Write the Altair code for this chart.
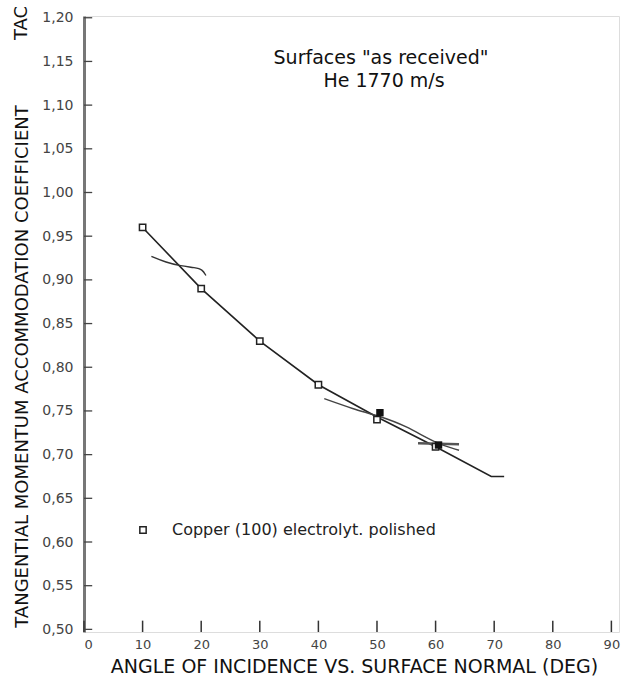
import altair as alt
import pandas as pd

# ---- data ----
angles = [10, 20, 30, 40, 50, 60]
tac_open = [0.960, 0.890, 0.830, 0.780, 0.740, 0.709]
filled_angles = [50.5, 60.5]
tac_filled = [0.748, 0.711]
fit_angles = [10, 20, 30, 40, 50, 60, 69.5, 71.7]
fit_tac = [0.960, 0.890, 0.830, 0.780, 0.743, 0.709, 0.675, 0.675]
sketch1_x = [11.5, 14.0, 16.5, 19.0, 20.2, 20.8]
sketch1_y = [0.927, 0.920, 0.916, 0.914, 0.912, 0.905]
sketch2_x = [41.0, 46.0, 50.0, 55.0, 60.0, 64.0]
sketch2_y = [0.764, 0.752, 0.745, 0.733, 0.713, 0.705]
sketch3_x = [57.0, 64.0]
sketch3_y = [0.713, 0.712]
x_ticks = [0, 10, 20, 30, 40, 50, 60, 70, 80, 90]
y_ticks = [0.50, 0.55, 0.60, 0.65, 0.70, 0.75, 0.80, 0.85, 0.90, 0.95,
           1.00, 1.05, 1.10, 1.15, 1.20]
series_name = "Copper (100)  electrolyt. polished"
note_lines = ['Surfaces "as received"', "He 1770 m/s"]

X0, X1 = 0, 91.3
Y0, Y1 = 0.497, 1.202
W, H = 535, 616
FONT = "DejaVu Sans"

xs = alt.Scale(domain=[X0, X1], nice=False, zero=False)
ys = alt.Scale(domain=[Y0, Y1], nice=False, zero=False)

df_open = pd.DataFrame({"a": angles, "t": tac_open})
df_fill = pd.DataFrame({"a": filled_angles, "t": tac_filled})
df_fit = pd.DataFrame({"a": fit_angles, "t": fit_tac})
df_s1 = pd.DataFrame({"a": sketch1_x, "t": sketch1_y})
df_s2 = pd.DataFrame({"a": sketch2_x, "t": sketch2_y})
df_s3 = pd.DataFrame({"a": sketch3_x, "t": sketch3_y})
df_xt = pd.DataFrame({"a": x_ticks, "t0": Y0, "t1": Y0 + 0.013})
df_yt = pd.DataFrame({"t": y_ticks, "a0": X0, "a1": X0 + 1.4})

x_axis = alt.Axis(
    values=x_ticks, format="d", grid=False, ticks=False, domain=False,
    labelFont=FONT, labelFontSize=13, labelColor="#444", labelPadding=6,
    title="ANGLE OF INCIDENCE VS. SURFACE NORMAL (DEG)",
    titleFont=FONT, titleFontSize=19, titleFontWeight="normal", titleColor="#111",
    titleX=270, titleY=34, titleBaseline="middle", titleAlign="center",
)
y_axis = alt.Axis(
    values=y_ticks, grid=False, ticks=False, domain=True,
    domainColor="#777", domainWidth=3,
    labelExpr="replace(format(datum.value, '.2f'), '.', ',')",
    labelFont=FONT, labelFontSize=14, labelColor="#444", labelPadding=11,
    title="TANGENTIAL MOMENTUM ACCOMMODATION COEFFICIENT",
    titleFont=FONT, titleFontSize=18, titleFontWeight="normal", titleColor="#111",
    titleAngle=270, titleX=-62, titleY=350, titleBaseline="middle", titleAlign="center",
)

base_x = alt.X("a:Q", scale=xs, axis=x_axis)
base_y = alt.Y("t:Q", scale=ys, axis=y_axis)

fit = alt.Chart(df_fit).mark_line(color="#222", strokeWidth=1.6).encode(
    x=base_x, y=base_y)
s1 = alt.Chart(df_s1).mark_line(color="#333", strokeWidth=1.4, interpolate="basis").encode(
    x="a:Q", y="t:Q")
s2 = alt.Chart(df_s2).mark_line(color="#444", strokeWidth=1.4, interpolate="basis").encode(
    x="a:Q", y="t:Q")
s3 = alt.Chart(df_s3).mark_line(color="#555", strokeWidth=2.5).encode(
    x="a:Q", y="t:Q")
pts_open = alt.Chart(df_open).mark_point(
    shape="square", filled=True, fill="white", stroke="#222", strokeWidth=1.5,
    size=40, opacity=1).encode(x="a:Q", y="t:Q")
pts_fill = alt.Chart(df_fill).mark_point(
    shape="square", filled=True, color="#111", size=55, opacity=1).encode(
    x="a:Q", y="t:Q")
xt = alt.Chart(df_xt).mark_rule(color="#333", strokeWidth=1.5).encode(
    x="a:Q", y="t0:Q", y2="t1:Q")
yt = alt.Chart(df_yt).mark_rule(color="#444", strokeWidth=1.3).encode(
    y="t:Q", x="a0:Q", x2="a1:Q")

# legend (drawn as a key + label)
df_leg = pd.DataFrame({"txt": [series_name]})
leg_sym = alt.Chart(df_leg).mark_point(
    shape="square", filled=True, fill="white", stroke="#222", strokeWidth=1.5,
    size=40, opacity=1).encode(x=alt.value(59), y=alt.value(514))
leg_txt = alt.Chart(df_leg).mark_text(
    font=FONT, fontSize=16, color="#222", align="left", baseline="middle").encode(
    x=alt.value(88), y=alt.value(514), text="txt:N")

df_note = pd.DataFrame({"txt": note_lines})
note1 = alt.Chart(df_note.iloc[[0]]).mark_text(
    font=FONT, fontSize=19, color="#111", align="center", baseline="middle").encode(
    x=alt.value(297), y=alt.value(42), text="txt:N")
note2 = alt.Chart(df_note.iloc[[1]]).mark_text(
    font=FONT, fontSize=19, color="#111", align="center", baseline="middle").encode(
    x=alt.value(300), y=alt.value(65), text="txt:N")
tac = alt.Chart(pd.DataFrame({"txt": ["TAC"]})).mark_text(
    font=FONT, fontSize=18, color="#111", angle=270, align="center", baseline="middle").encode(
    x=alt.value(-62), y=alt.value(7), text="txt:N")

chart = alt.layer(fit, s1, s2, s3, xt, yt, pts_open, pts_fill,
                  leg_sym, leg_txt, note1, note2, tac).properties(
    width=W, height=H,
    autosize=alt.AutoSizeParams(type="none"),
    padding={"left": 84, "top": 16, "right": 12, "bottom": 52},
).configure_view(stroke="#222", strokeWidth=1.5).configure(background="white")

chart.save("out.html", embed_options={"renderer": "svg", "actions": False})
